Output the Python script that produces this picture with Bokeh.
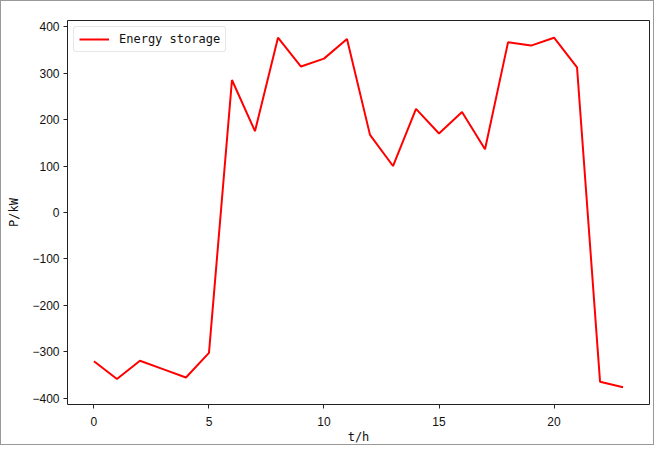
from bokeh.plotting import figure
from bokeh.models import Range1d, FixedTicker, Legend, LegendItem
from bokeh.embed import file_html
from bokeh.resources import INLINE

hours = list(range(24))
storage_kw = [-320, -358, -319, -337, -355, -302, 285, 175, 376, 314, 331, 373,
              167, 100, 223, 170, 216, 136, 366, 359, 376, 312, -364, -376]
x_ticks = [0, 5, 10, 15, 20]
y_ticks = [-400, -300, -200, -100, 0, 100, 200, 300, 400]
series_name = "Energy storage"
x_label = "t/h"
y_label = "P/kW"

p = figure(width=654, height=445, output_backend="svg", toolbar_location=None,
           x_range=Range1d(-1.15, 24.15), y_range=Range1d(-413, 413),
           min_border_left=66, min_border_right=6, min_border_top=19, min_border_bottom=38)
p.styles = {"border": "1px solid #999999"}

r = p.line(hours, storage_kw, line_color="red", line_width=2)

p.xgrid.visible = False
p.ygrid.visible = False
p.outline_line_color = "#222222"
p.outline_line_width = 1

for ax, ticks in ((p.xaxis, x_ticks), (p.yaxis, y_ticks)):
    ax.ticker = FixedTicker(ticks=ticks)
    ax.axis_line_color = None
    ax.major_tick_in = 0
    ax.major_tick_out = 4
    ax.major_tick_line_color = "#222222"
    ax.minor_tick_line_color = None
    ax.major_label_text_font = "Liberation Sans"
    ax.major_label_text_font_size = "12px"
    ax.major_label_text_color = "#111111"
    ax.axis_label_text_font = "DejaVu Sans Mono"
    ax.axis_label_text_font_size = "12px"
    ax.axis_label_text_font_style = "normal"
    ax.axis_label_text_color = "#111111"

p.xaxis.axis_label = x_label
p.yaxis.axis_label = y_label
p.xaxis.major_label_standoff = 8
p.yaxis.major_label_standoff = 4
p.xaxis.axis_label_standoff = 1
p.yaxis.axis_label_standoff = 8

legend = Legend(items=[LegendItem(label=series_name, renderers=[r])], location="top_left")
legend.label_text_font = "DejaVu Sans Mono"
legend.label_text_font_size = "12px"
legend.label_text_color = "#111111"
legend.border_line_color = "#d0d0d0"
legend.border_line_width = 1
legend.border_radius = 3
legend.glyph_width = 30
legend.glyph_height = 14
legend.padding = 5
legend.margin = 6
legend.spacing = 0
legend.label_standoff = 10
p.add_layout(legend)

open("out.html", "w").write(file_html(p, INLINE))
